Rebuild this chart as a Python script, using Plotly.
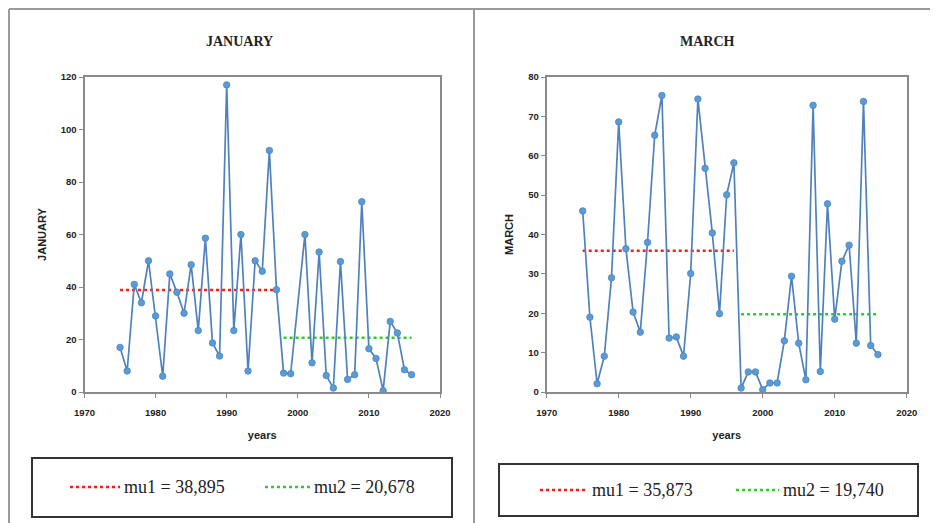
import plotly.graph_objects as go

# ---------------- data ----------------
jan_years = [1975, 1976, 1977, 1978, 1979, 1980, 1981, 1982, 1983, 1984, 1985, 1986,
             1987, 1988, 1989, 1990, 1991, 1992, 1993, 1994, 1995, 1996, 1997, 1998,
             1999, 2001, 2002, 2003, 2004, 2005, 2006, 2007, 2008, 2009, 2010, 2011,
             2012, 2013, 2014, 2015, 2016]
jan_values = [17, 8, 41, 34, 50, 29, 6, 45, 38, 30, 48.5, 23.4,
              58.6, 18.7, 13.7, 117, 23.4, 60, 8, 50, 46, 92, 39, 7.2,
              7, 60, 11.1, 53.3, 6.3, 1.5, 49.7, 4.8, 6.6, 72.5, 16.5, 12.8,
              0.5, 26.9, 22.5, 8.5, 6.6]

mar_years = list(range(1975, 2017))
mar_values = [46, 19, 2.1, 9.1, 29, 68.6, 36.4, 20.3, 15.2, 38, 65.2, 75.3,
              13.7, 14, 9.1, 30.1, 74.4, 56.8, 40.4, 19.9, 50.1, 58.2,
              1.0, 5.1, 5.1, 0.6, 2.3, 2.3, 13, 29.4, 12.4, 3.1, 72.8, 5.2,
              47.8, 18.5, 33.2, 37.3, 12.4, 73.8, 11.8, 9.5]

jan_mu1, jan_mu2 = 38.895, 20.678
jan_mu1_span, jan_mu2_span = [1975, 1997], [1998, 2016]
mar_mu1, mar_mu2 = 35.873, 19.740
mar_mu1_span, mar_mu2_span = [1975, 1996], [1997, 2016]

jan_legend = ["mu1 = 38,895", "mu2 = 20,678"]
mar_legend = ["mu1 = 35,873", "mu2 = 19,740"]

titles = ["JANUARY", "MARCH"]
x_title = "years"

# ---------------- figure ----------------
W, H = 938, 523
OFF = 8  # page body margin in the browser
def px(x):
    return max(x - OFF, 0) / W
def py(y):
    return 1 - max(y - OFF, 0) / H

LINE_BLUE = "#4f81bd"
MARK_BLUE = "#5b9bd5"
RED = "#ff1a1a"
GREEN = "#2ecc2e"
AX = "#8a8a8a"

fig = go.Figure()

panels = [
    dict(xa="x", ya="y", years=jan_years, vals=jan_values,
         mu=[(jan_mu1, jan_mu1_span, RED), (jan_mu2, jan_mu2_span, GREEN)]),
    dict(xa="x2", ya="y2", years=mar_years, vals=mar_values,
         mu=[(mar_mu1, mar_mu1_span, RED), (mar_mu2, mar_mu2_span, GREEN)]),
]

for p in panels:
    for val, span, col in p["mu"]:
        fig.add_trace(go.Scatter(x=span, y=[val, val], mode="lines",
                                 line=dict(color=col, width=2.5, dash="dot"),
                                 xaxis=p["xa"], yaxis=p["ya"], showlegend=False,
                                 hoverinfo="skip"))
    fig.add_trace(go.Scatter(x=p["years"], y=p["vals"], mode="lines+markers",
                             line=dict(color=LINE_BLUE, width=1.7),
                             marker=dict(color=MARK_BLUE, size=6.5,
                                         line=dict(color="#4a86c5", width=0.8)),
                             xaxis=p["xa"], yaxis=p["ya"], showlegend=False))

tickfont = dict(family="Liberation Sans", size=9.5, color="#222", weight="bold")
axtitlefont = dict(family="Liberation Sans", size=11, color="#222", weight="bold")

common_x = dict(range=[1970, 2020], dtick=10, tick0=1970, showgrid=False, zeroline=False,
                showline=True, linecolor=AX, linewidth=2, mirror=True, automargin=False,
                ticks="outside", ticklen=4, tickcolor=AX, tickwidth=1, ticklabelstandoff=7,
                tickfont=tickfont, title=dict(text=x_title, font=axtitlefont, standoff=14))
common_y = dict(showgrid=False, zeroline=False, showline=True, linecolor=AX, linewidth=2,
                mirror=True, ticks="outside", ticklen=4, tickcolor=AX, tickwidth=1,
                tickfont=tickfont, automargin=False)

fig.update_layout(
    template="none",
    width=W, height=H, margin=dict(l=0, r=0, t=0, b=0, pad=0, autoexpand=False),
    paper_bgcolor="white", plot_bgcolor="white",
    xaxis=dict(domain=[px(84.5), px(440)], anchor="y", **common_x),
    yaxis=dict(domain=[py(392), py(77)], anchor="x", range=[0, 120], dtick=20,
               title=dict(text=titles[0], font=axtitlefont, standoff=12), **common_y),
    xaxis2=dict(domain=[px(546.7), px(906.7)], anchor="y2", **common_x),
    yaxis2=dict(domain=[py(392), py(77)], anchor="x2", range=[0, 80], dtick=10,
                title=dict(text=titles[1], font=axtitlefont, standoff=12), **common_y),
)

shapes = []
# outer frame lines
frame = dict(type="line", xref="paper", yref="paper", line=dict(color="#9a9a9a", width=2))
shapes.append(dict(frame, x0=px(9), x1=1, y0=py(9), y1=py(9)))
shapes.append(dict(frame, x0=px(9), x1=px(9), y0=py(9), y1=0))
shapes.append(dict(frame, x0=px(474), x1=px(474), y0=py(9), y1=0))

annotations = []
# panel titles
for cx, t in [(239, titles[0]), (707, titles[1])]:
    annotations.append(dict(x=px(cx), y=py(41), xref="paper", yref="paper", text=t,
                            showarrow=False, xanchor="center", yanchor="middle",
                            font=dict(family="Liberation Serif", size=14,
                                      color="#222", weight="bold")))

# legend boxes
legends = [
    dict(box=(32, 458, 452, 517), texts=jan_legend, s1=(70, 120), t1=122, s2=(265, 310), t2=312, cy=487),
    dict(box=(499, 464, 918, 516), texts=mar_legend, s1=(540, 588), t1=590, s2=(736, 779), t2=781, cy=490),
]
for lg in legends:
    x0, y0, x1, y1 = lg["box"]
    shapes.append(dict(type="rect", xref="paper", yref="paper", x0=px(x0), x1=px(x1),
                       y0=py(y1), y1=py(y0), line=dict(color="#333", width=2),
                       fillcolor="rgba(0,0,0,0)"))
    for (sa, sb), col in [(lg["s1"], RED), (lg["s2"], GREEN)]:
        shapes.append(dict(type="line", xref="paper", yref="paper", x0=px(sa), x1=px(sb),
                           y0=py(lg["cy"]), y1=py(lg["cy"]),
                           line=dict(color=col, width=2.5, dash="dot")))
    for tx, txt in [(lg["t1"], lg["texts"][0]), (lg["t2"], lg["texts"][1])]:
        annotations.append(dict(x=px(tx), y=py(lg["cy"]), xref="paper", yref="paper",
                                text=txt, showarrow=False, xanchor="left", yanchor="middle",
                                font=dict(family="Liberation Serif", size=18, color="#222")))

fig.update_layout(shapes=shapes, annotations=annotations)
fig.write_html("out.html")
